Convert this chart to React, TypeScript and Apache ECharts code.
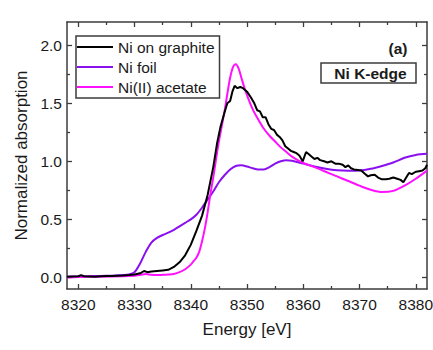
import React, { useEffect, useRef } from "react";
import * as echarts from "echarts";

// ---- Data ----
const graphiteEnergy = [
  8318, 8319, 8320, 8320.5, 8321, 8322, 8323, 8324, 8325, 8326, 8327, 8328, 8329, 8330, 8331, 8331.7, 8332.3, 8333, 8334, 8335,
  8336, 8337, 8338, 8339, 8340, 8341, 8342, 8343, 8344, 8344.7, 8345.3, 8346, 8346.5, 8347, 8347.4, 8347.8, 8348.3, 8348.8, 8349.3, 8350,
  8350.7, 8351.3, 8351.8, 8352.3, 8352.8, 8353.3, 8353.8, 8354.3, 8354.8, 8355.3, 8355.8, 8356.3, 8356.8, 8357.3, 8357.8, 8358.3, 8358.8, 8359.3, 8359.9, 8360.5,
  8361, 8361.5, 8362, 8362.5, 8363, 8363.7, 8364.3, 8365, 8365.7, 8366.3, 8367, 8367.5, 8368, 8368.5, 8369, 8369.7, 8370.3, 8371, 8371.5, 8372,
  8372.7, 8373.3, 8374, 8374.7, 8375.3, 8376, 8376.7, 8377.3, 8377.8, 8378.3, 8378.8, 8379.3, 8380, 8380.6, 8381.2, 8381.7, 8382,
];
const graphiteValues = [
  0.005, 0.008, 0.01, 0.02, 0.01, 0.008, 0.006, 0.01, 0.012, 0.013, 0.015, 0.016, 0.02, 0.025, 0.035, 0.055, 0.045, 0.05, 0.055, 0.06,
  0.065, 0.09, 0.13, 0.19, 0.28, 0.4, 0.53, 0.71, 0.95, 1.16, 1.3, 1.42, 1.5, 1.52, 1.6, 1.65, 1.63, 1.64, 1.63, 1.6,
  1.55, 1.5, 1.44, 1.43, 1.38, 1.38, 1.32, 1.28, 1.27, 1.23, 1.21, 1.18, 1.13, 1.11, 1.09, 1.08, 1.07, 1.05, 1.0, 1.08,
  1.06, 1.04, 1.02, 1.03, 1.01, 1.0, 0.99, 1.0, 0.98, 0.98, 0.97, 0.95, 0.965, 0.94, 0.93, 0.925, 0.92, 0.89, 0.87, 0.88,
  0.885, 0.86, 0.845, 0.845, 0.85, 0.86, 0.85, 0.84, 0.82, 0.86, 0.9, 0.89, 0.91, 0.915, 0.92, 0.94, 0.97,
];

const foilEnergy = [
  8318, 8320, 8322, 8324, 8326, 8328, 8329, 8330, 8331, 8332, 8333, 8334, 8335, 8336, 8337, 8338, 8339, 8340, 8341, 8342,
  8343, 8344, 8345, 8346, 8347, 8348, 8349, 8350, 8351, 8352, 8353, 8354, 8355, 8356, 8357, 8358, 8360, 8362, 8364, 8366,
  8368, 8370, 8372, 8374, 8376, 8378, 8380, 8382,
];
const foilValues = [
  0.005, 0.008, 0.01, 0.012, 0.015, 0.02, 0.025, 0.045, 0.12, 0.22, 0.3, 0.34, 0.365, 0.385, 0.41, 0.44, 0.47, 0.5, 0.54, 0.6,
  0.67, 0.74, 0.82, 0.88, 0.93, 0.96, 0.965, 0.955, 0.94, 0.93, 0.93, 0.95, 0.98, 1.0, 1.01, 1.005, 0.98, 0.955, 0.935, 0.922,
  0.918, 0.92, 0.935, 0.96, 0.99, 1.03, 1.055, 1.065,
];

const acetateEnergy = [
  8318, 8320, 8324, 8328, 8330, 8331, 8332, 8333, 8334, 8335, 8336, 8337, 8338, 8339, 8340, 8340.5, 8341, 8341.5, 8342, 8342.5,
  8343, 8343.5, 8344, 8344.5, 8345, 8345.5, 8346, 8346.5, 8347, 8347.5, 8348, 8348.5, 8349, 8349.5, 8350, 8351, 8352, 8353, 8354, 8355,
  8356, 8357, 8358, 8359, 8360, 8362, 8364, 8366, 8368, 8370, 8372, 8374, 8376, 8378, 8380, 8382,
];
const acetateValues = [
  0.0, 0.003, 0.006, 0.01, 0.015, 0.02, 0.03, 0.022, 0.02, 0.022, 0.025, 0.03, 0.045, 0.07, 0.11, 0.14, 0.17, 0.22, 0.31, 0.42,
  0.56, 0.72, 0.86, 1.02, 1.17, 1.3, 1.43, 1.58, 1.72, 1.81, 1.835, 1.8, 1.72, 1.64, 1.57, 1.45, 1.36, 1.28, 1.22, 1.17,
  1.12, 1.08, 1.04, 1.01, 0.985, 0.95, 0.91, 0.87, 0.83, 0.79, 0.755, 0.735, 0.745, 0.79, 0.85, 0.92,
];

const seriesNames = ["Ni on graphite", "Ni foil", "Ni(II) acetate"];
const seriesColors = ["#000000", "#8a10f0", "#ff10ff"];

const xMajorTicks = [8320, 8330, 8340, 8350, 8360, 8370, 8380];
const xMinorTicks = [8325, 8335, 8345, 8355, 8365, 8375];
const yMajorTicks = [0, 0.5, 1.0, 1.5, 2.0];
const yMinorTicks = [0.25, 0.75, 1.25, 1.75];

const X_MIN = 8318;
const X_MAX = 8382;
const Y_MIN = -0.1;
const Y_MAX = 2.2;

const FONT = "'Liberation Sans', Arial, sans-serif";
const FRAME = "#3c3c3c";

function zip(xs: number[], ys: number[]) {
  return xs.map((x, i) => [x, ys[i]]);
}

export default function App() {
  const ref = useRef<HTMLDivElement>(null);

  useEffect(() => {
    if (!ref.current) return;
    const chart = echarts.init(ref.current, undefined, { renderer: "svg" });

    const mkX = (pos: "bottom" | "top", ticks: number[], len: number, main: boolean) => ({
      type: "value",
      position: pos,
      min: X_MIN,
      max: X_MAX,
      axisLine: { show: main, onZero: false, lineStyle: { color: FRAME, width: 1.5 } },
      axisTick: { show: true, inside: true, length: len, customValues: ticks, lineStyle: { color: FRAME, width: 1.3 } },
      axisLabel: main && pos === "bottom"
        ? {
            show: true,
            customValues: ticks,
            color: "#1a1a1a",
            fontSize: 15.5,
            fontFamily: FONT,
            margin: 7,
            formatter: (v: number) => String(v),
          }
        : { show: false },
      splitLine: { show: false },
      name: main && pos === "bottom" ? "Energy [eV]" : "",
      nameLocation: "middle",
      nameGap: 32,
      nameTextStyle: { fontSize: 17, color: "#1a1a1a", fontFamily: FONT },
    });
    const mkY = (pos: "left" | "right", ticks: number[], len: number, main: boolean) => ({
      type: "value",
      position: pos,
      min: Y_MIN,
      max: Y_MAX,
      axisLine: { show: main, onZero: false, lineStyle: { color: FRAME, width: 1.5 } },
      axisTick: { show: true, inside: true, length: len, customValues: ticks, lineStyle: { color: FRAME, width: 1.3 } },
      axisLabel: main && pos === "left"
        ? {
            show: true,
            customValues: ticks,
            color: "#1a1a1a",
            fontSize: 15.5,
            fontFamily: FONT,
            margin: 5,
            formatter: (v: number) => v.toFixed(1),
          }
        : { show: false },
      splitLine: { show: false },
      name: main && pos === "left" ? "Normalized absorption" : "",
      nameLocation: "middle",
      nameGap: 37,
      nameRotate: 90,
      nameTextStyle: { fontSize: 17, color: "#1a1a1a", fontFamily: FONT },
    });

    const data = [
      zip(graphiteEnergy, graphiteValues),
      zip(foilEnergy, foilValues),
      zip(acetateEnergy, acetateValues),
    ];

    chart.setOption({
      animation: false,
      backgroundColor: "#ffffff",
      grid: { left: 67, right: 6, top: 22, bottom: 61, containLabel: false, outerBoundsMode: "none" },
      xAxis: [
        mkX("bottom", xMajorTicks, 5, true),
        mkX("bottom", xMinorTicks, 3, false),
        mkX("top", xMajorTicks, 5, true),
        mkX("top", xMinorTicks, 3, false),
      ],
      yAxis: [
        mkY("left", yMajorTicks, 5, true),
        mkY("left", yMinorTicks, 3, false),
        mkY("right", yMajorTicks, 5, true),
        mkY("right", yMinorTicks, 3, false),
      ],
      legend: {
        orient: "vertical",
        left: 76,
        top: 36,
        padding: [3, 5, 3, 1],
        icon: "rect",
        itemWidth: 36,
        itemHeight: 2,
        itemGap: 4,
        borderColor: FRAME,
        borderWidth: 1.5,
        backgroundColor: "#ffffff",
        textStyle: { fontSize: 15.5, fontFamily: FONT, color: "#1a1a1a", lineHeight: 16 },
        data: seriesNames,
      },
      series: seriesNames.map((name, i) => ({
        name,
        type: "line",
        xAxisIndex: 0,
        yAxisIndex: 0,
        data: data[i],
        symbol: "none",
        smooth: i === 0 ? false : 0.3,
        color: seriesColors[i],
        itemStyle: { color: seriesColors[i] },
        lineStyle: { color: seriesColors[i], width: 2 },
        z: i === 0 ? 3 : 2,
      })),
      graphic: [
        {
          type: "text",
          x: 398,
          y: 48,
          style: {
            text: "(a)",
            fontSize: 15.5,
            fontWeight: "bold",
            fontFamily: FONT,
            fill: "#1a1a1a",
            textAlign: "center",
            textVerticalAlign: "middle",
          },
        },
        {
          type: "rect",
          shape: { x: 321, y: 63, width: 95, height: 20 },
          style: { fill: "#ffffff", stroke: FRAME, lineWidth: 1.5 },
        },
        {
          type: "text",
          x: 370.5,
          y: 73,
          style: {
            text: "Ni K-edge",
            fontSize: 15.5,
            fontWeight: "bold",
            fontFamily: FONT,
            fill: "#1a1a1a",
            textAlign: "center",
            textVerticalAlign: "middle",
          },
        },
      ],
    });

    return () => chart.dispose();
  }, []);

  return (
    <div
      ref={ref}
      style={{ position: "absolute", left: 0, top: 0, width: 433, height: 350 }}
    />
  );
}
